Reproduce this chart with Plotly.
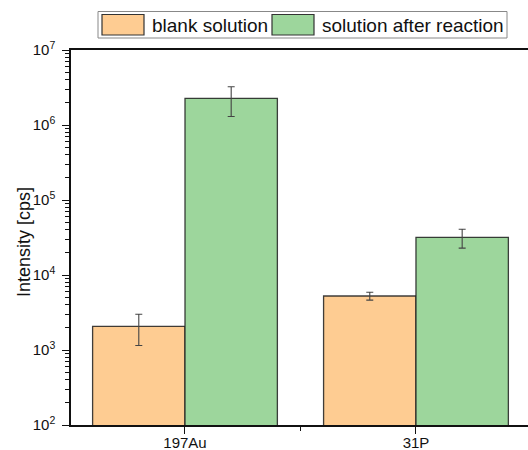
import plotly.graph_objects as go

# Data
categories = ["197Au", "31P"]
series_names = ["blank solution", "solution after reaction"]
blank_values = [2070, 5250]
blank_errors = [920, 630]
reaction_values = [2270000, 31800]
reaction_errors = [970000, 9000]
y_tick_values = [1e2, 1e3, 1e4, 1e5, 1e6, 1e7]
y_tick_labels = ["10<sup>2</sup>", "10<sup>3</sup>", "10<sup>4</sup>",
                 "10<sup>5</sup>", "10<sup>6</sup>", "10<sup>7</sup>"]

colors = ["#FECC92", "#9DD69C"]
FONT = "Liberation Sans, Arial, sans-serif"

W, H = 528, 450
ML, MR, MT, MB = 71, 0, 50, 25
PW, PH = W - ML - MR, H - MT - MB


def px_x(p):
    return (p - ML) / PW


def px_y(p):
    return (H - MB - p) / PH


x_pos = list(range(len(categories)))

fig = go.Figure()
for name, vals, errs, col in [
    (series_names[0], blank_values, blank_errors, colors[0]),
    (series_names[1], reaction_values, reaction_errors, colors[1]),
]:
    fig.add_trace(go.Bar(
        x=x_pos, y=vals, name=name,
        marker=dict(color=col, line=dict(color="rgba(30,30,30,0.85)", width=1.3)),
        error_y=dict(type="data", array=errs, visible=True,
                     color="#444444", thickness=1.1, width=3.5),
        showlegend=False,
    ))

# minor ticks at 2..9 times each decade
minor_vals = [k * 10 ** e for e in range(2, 7) for k in range(2, 10)]

fig.update_layout(
    width=W, height=H,
    margin=dict(l=ML, r=MR, t=MT, b=MB, pad=0, autoexpand=False),
    paper_bgcolor="white", plot_bgcolor="white",
    barmode="group", bargap=0.2, bargroupgap=0.0,
    font=dict(family=FONT, color="#111111", size=15),
    xaxis=dict(
        range=[-0.4935, 1.485], automargin=False,
        tickmode="array", tickvals=x_pos, ticktext=categories,
        ticks="outside", ticklen=7, tickwidth=1.3, tickcolor="#111111",
        minor=dict(tickmode="array", tickvals=[0.5], ticks="outside",
                   ticklen=4, tickwidth=1.3, tickcolor="#111111"),
        showline=True, linecolor="#111111", linewidth=1.5, mirror=True,
        showgrid=False, zeroline=False,
        tickfont=dict(size=15, family=FONT),
        ticklabelstandoff=-4,
    ),
    yaxis=dict(
        type="log", range=[2, 7], automargin=False,
        tickmode="array", tickvals=y_tick_values, ticktext=y_tick_labels,
        ticks="outside", ticklen=7, tickwidth=1.3, tickcolor="#111111",
        minor=dict(tickmode="array", tickvals=minor_vals, ticks="outside",
                   ticklen=4, tickwidth=1.0, tickcolor="#111111"),
        showline=True, linecolor="#111111", linewidth=1.5,
        showgrid=False, zeroline=False,
        tickfont=dict(size=15, family=FONT),
        ticklabelstandoff=4,
    ),
)

# axis title placed beside the tick labels
annotations = [dict(x=px_x(24), y=px_y(242), xref="paper", yref="paper",
                    text="Intensity [cps]", textangle=-90, showarrow=False,
                    xanchor="center", yanchor="middle",
                    font=dict(size=18, family=FONT, color="#111111"))]

# legend box with large swatches
shapes = [
    dict(type="rect", xref="paper", yref="paper",
         x0=px_x(98), x1=px_x(507), y0=px_y(38), y1=px_y(11.5),
         line=dict(color="#888888", width=1), fillcolor="white", layer="above"),
]
legend_items = [
    (102, 144, 150, series_names[0], colors[0]),
    (272, 314, 320, series_names[1], colors[1]),
]
for sx0, sx1, tx, label, col in legend_items:
    shapes.append(dict(type="rect", xref="paper", yref="paper",
                       x0=px_x(sx0), x1=px_x(sx1), y0=px_y(35), y1=px_y(14.5),
                       line=dict(color="#333333", width=1.2), fillcolor=col, layer="above"))
    annotations.append(dict(x=px_x(tx), y=px_y(25), xref="paper", yref="paper",
                            text=label, showarrow=False, xanchor="left", yanchor="middle",
                            font=dict(size=19, family=FONT, color="#111111")))
fig.update_layout(shapes=shapes, annotations=annotations)

fig.write_html("out.html")
